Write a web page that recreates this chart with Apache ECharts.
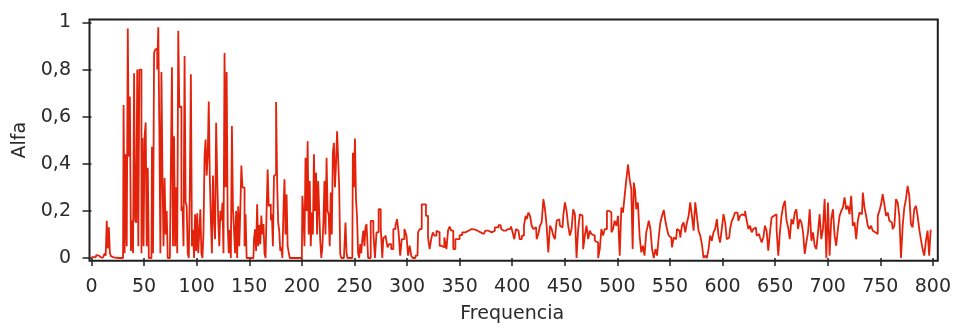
<!DOCTYPE html>
<html>
<head>
<meta charset="utf-8">
<script src="https://cdn.jsdelivr.net/npm/echarts@6/dist/echarts.min.js"></script>
<style>html,body{margin:0;padding:0;background:#fff;}#c{width:954px;height:329px;}</style>
</head>
<body>
<div id="c"></div>
<script>
// ---- data ----
var xTicks = [0,50,100,150,200,250,300,350,400,450,500,550,600,650,700,750,800];
var yTicks = [0,0.2,0.4,0.6,0.8,1];
var xName = 'Frequencia';
var yName = 'Alfa';

var freqA = [0,2,4,5,6,8,10,12,13,14,15,16,17,18,19,20,22,30,31,32,33,34,35,36,37,38,39,40,41,42,43,44,45,46,47,48,49,50,51,52,53,54,55,57,58,59,60,61,62,63,64,65,66,67,68,69,70,71,72,73,76,77,78,79,80,81,82,83,84,85,86,87,88,89,90,91,92,93,94,95,96,97,98,99,100];
var alfaA = [0.005,0.004,0.003,0.012,0.01,0.003,0.002,0.004,0.02,0.01,0.158,0.04,0.13,0.02,0.008,0.003,0,0,0.65,0.02,0.44,0.05,0.975,0.43,0.686,0.03,0.16,0.02,0.785,0.16,0.15,0.8,0.05,0.8,0.8,0.02,0.51,0.05,0.515,0.575,0.05,0.383,0,0,0.472,0.02,0.87,0.884,0.89,0.8,0.98,0.55,0.02,0.79,0.34,0.05,0.34,0.1,0.2,0,0,0.81,0.05,0.517,0.05,0.3,0.02,0.965,0.64,0.644,0.2,0.22,0.05,0.858,0.236,0.22,0.02,0,0.3,0.78,0.05,0.12,0,0.186,0.03];

var freqB1 = [101,102,103,104,105,106,107,108,109,110,111,112,113,114,115,116,117,118,119,120,121,122,123,124,125,126,127,128,129,130,131,132,133,134,135,136,137,138,139,140,141,142,143,144,145,146,147,148];
var alfaB1 = [0.19,0.02,0.11,0.207,0.02,0,0.11,0.433,0.503,0.35,0.43,0.665,0.34,0.16,0.02,0.35,0.16,0.08,0.574,0.35,0.16,0.05,0.2,0.16,0.235,0.02,0.87,0.3,0.79,0.14,0.02,0.12,0,0.56,0.21,0.12,0.02,0.2,0,0.22,0.05,0.2,0.393,0.3,0.299,0.05,0.186,0];

var freqB2 = [154,155,156,157,158,159,160,161,162,163,164,165,166,167,168,169,170,171,172,173,174,175,176,177,178,179,180,181,182,183,184,185,186,187,188,189];
var alfaB2 = [0,0.08,0.122,0.03,0.228,0.05,0.14,0.059,0.18,0.1,0.144,0.02,0,0.2,0.376,0.22,0.228,0.16,0.186,0.05,0.348,0.355,0.662,0.327,0.15,0.116,0.03,0.045,0,0.2,0.334,0.1,0.27,0.05,0.024,0];

var freqB3 = [200,201,202,203,204,205,206,207,208,209,210,211,212,213,214,215,216,217,218,219,220,221,222,223,224,225,226,227,228,229,230,231,232,233,234,235,236,237,238,240,241,242,243,244];
var alfaB3 = [0,0.264,0.186,0.05,0.426,0.2,0.496,0.1,0.327,0.05,0.193,0.1,0.44,0.2,0.362,0.1,0.327,0.2,0.073,0,0.045,0.15,0.327,0.1,0.426,0.2,0.186,0.05,0.278,0.1,0.447,0.489,0.3,0.4,0.538,0.426,0.3,0.017,0,0,0.05,0.151,0.02,0];

var freqB4 = [248,249,250,251,252,253,254,255,256,257,258,259,260,261];
var alfaB4 = [0,0.447,0.3,0.507,0.25,0.172,0.02,0,0.059,0.02,0.08,0.116,0.05,0.13];

var freqC = [262,264,267,269,270,272,274,276,277,278,281,282,284,286,288,290,291,293,294,296,299,300,302,303,305,306,310,311,313,315,317,319,321,322,324,325,327,329,330,332,334,337,338,340,341,343,345,347,349,351,354,357,360,363,367,370,373,376,379,382,385,389,390,392,394,396];
var alfaC = [0.144,0,0.158,0.109,0,0.109,0.207,0.13,0,0.087,0.097,0.045,0.059,0.038,0.123,0.137,0.165,0.109,0.01,0.08,0.123,0.095,0.01,0.052,0.01,0,0.01,0.109,0.123,0.228,0.228,0.179,0.087,0.038,0.08,0.109,0.095,0.116,0.109,0.052,0.045,0.087,0.038,0.116,0.134,0.116,0.038,0.08,0.08,0.097,0.109,0.116,0.123,0.12,0.116,0.109,0.102,0.116,0.109,0.116,0.13,0.14,0.123,0.116,0.116,0.123];

var freqD = [398.1,399.6,401.2,402.8,404.4,406,408.2,410.1,412.3,413.2,414.5,416.4,417.6,419.5,420.8,422.7,423.9,425.8,427.1,429,430.3,432.1,433.4,435.3,436.6,438.5,439.7,441.6,442.9,444.8,446,447.9,449.2,451.1,452.3,454.2,455.5,457.4,458.7,460.6,461.8,463.7,465,466.9,468.1,470,471.3,473.2,474.4,476.3,477.6,479.5,480.8,482.7,483.9,485.8,487.1,489,491.2,493.4,495.3,496.5,498.4,499.7,501.6,502.9,504.7,506,507.9,509.2,511.1,512.3,514.2,514.9,516.4,517.4,518.6,520.5,521.8,523.7,524.9,526.8,528.1,529];
var alfaD = [0.123,0.134,0.109,0.08,0.123,0.116,0.08,0.095,0.137,0.179,0.165,0.193,0.179,0.137,0.123,0.13,0.08,0.102,0.137,0.151,0.25,0.207,0.137,0.024,0.137,0.123,0.095,0.08,0.158,0.165,0.137,0.13,0.179,0.236,0.2,0.137,0.095,0.123,0.207,0.186,0,0.123,0.186,0.179,0.038,0.095,0.137,0.08,0.116,0.102,0.095,0.073,0.066,0,0.038,0.123,0.095,0.123,0.2,0.193,0.109,0.123,0.158,0.137,0.179,0.01,0.214,0.193,0.264,0.334,0.397,0.334,0.292,0.038,0.32,0.285,0.207,0.236,0.095,0.024,0.052,0.01,0.109,0.13];

var freqE = [530.7,532.2,533.8,535.4,537,538.5,540.1,541.7,543.3,544.9,546.4,548,549.6,551.2,552.8,554.3,555.9,557.5,559.1,560.6,562.2,563.8,565.4,567,568.5,570.1,571.7,573.3,574.8,576.4,578,579.6,581.2,582.7,584.3,585.9,587.5,589,590.6,592.2,593.8,595.4,596.9,598.5,600.1,601.7,603.3,604.8,606.4,608,609.6,611.1,612.7,614.3,615.9,617.5,619,620.6,622.2,623.8,625.4,626.9,628.5,630.1,631.7,633.2,634.8,636.4,638,639.6,641.1,642.7,644.3,645.9,647.4,649,650.6,652.2,653.8,655.3,656.9,658.5,660.1];
var alfaE = [0.158,0.123,0.038,0,0.038,0.01,0.087,0.151,0.179,0.204,0.158,0.123,0.095,0.087,0.045,0.087,0.08,0.123,0.116,0.087,0.137,0.151,0.109,0.151,0.179,0.236,0.179,0.116,0.236,0.179,0.116,0.095,0.059,0,0.01,0,0.038,0.095,0.073,0.109,0.123,0.165,0.095,0.066,0.123,0.186,0.151,0.08,0.087,0.123,0.158,0.172,0.193,0.193,0.158,0.179,0.186,0.179,0.2,0.158,0.123,0.137,0.109,0.123,0.13,0.095,0.102,0.087,0.066,0.087,0.137,0.116,0.031,0.109,0.172,0.179,0.186,0.123,0.01,0.109,0.179,0.221,0.243];

var freqF = [661.6,663.2,664.7,666.3,667.9,669.5,671,672.6,674.2,675.8,677.4,678.9,680.5,682.1,683.7,685.3,686.8,688.4,690,691.6,693.1,694.7,696.3,697.9,699.5,701,702.6,704.2,705.8,707.3,708.9,710.5,712.1,713.7,715.2,716.8,718.4,720,721.6,723.1,724.7,726.3,727.9,729.4,731,732.6,734.2,735.8,737.3,738.9,740.5,742.1,743.6,745.2,746.8,748.4,750,751.5,753.1,754.7,756.3,757.9,759.4,761,762.6,764.2,765.7,767.3,768.9,770.5,772.1,773.6,775.2,776.8,778.4,779.9,781.5,783.1,784.7,786.3,787.8,789.4,791,792.6,794.2,795.7,797.3,798.5];
var alfaF = [0.158,0.13,0.08,0.165,0.144,0.193,0.207,0.123,0.165,0.151,0.109,0.017,0.066,0.109,0.207,0.073,0.109,0.052,0.038,0.109,0.186,0.08,0.123,0.25,0,0.236,0.01,0.165,0.207,0.095,0.052,0.123,0.179,0.2,0.214,0.257,0.207,0.221,0.186,0.264,0.137,0.151,0.08,0.158,0.193,0.186,0.278,0.214,0.179,0.137,0.123,0.137,0.116,0.109,0.102,0.179,0.2,0.228,0.271,0.228,0.179,0.193,0.158,0.151,0.123,0.137,0.25,0.236,0.179,0,0.137,0.214,0.25,0.306,0.264,0.144,0.13,0.207,0.221,0.179,0.123,0.08,0.038,0.01,0.073,0.116,0.01,0.12];

// ---- build ----
var freq = [].concat(freqA, freqB1, freqB2, freqB3, freqB4, freqC, freqD, freqE, freqF);
var alfa = [].concat(alfaA, alfaB1, alfaB2, alfaB3, alfaB4, alfaC, alfaD, alfaE, alfaF);
var data = freq.map(function (f, i) { return [f, alfa[i]]; });

var FONT = 'DejaVu Sans';
var chart = echarts.init(document.getElementById('c'), null, {renderer: 'canvas'});
chart.setOption({
  animation: false,
  backgroundColor: '#ffffff',
  grid: {left: 91.5, right: 18.3, top: 22.5, bottom: 70},
  xAxis: {
    type: 'value', min: xTicks[0], max: xTicks[xTicks.length - 1], interval: xTicks[1] - xTicks[0],
    offset: 6,
    axisLine: {show: false},
    axisTick: {show: true, length: 8, lineStyle: {color: '#222', width: 1.5}},
    axisLabel: {margin: 14, color: '#2a2a2a', fontFamily: FONT, fontSize: 19},
    splitLine: {show: false},
    name: xName, nameLocation: 'middle', nameGap: 41,
    nameTextStyle: {color: '#2a2a2a', fontFamily: FONT, fontSize: 19}
  },
  yAxis: {
    type: 'value', min: yTicks[0], max: yTicks[yTicks.length - 1], interval: yTicks[1] - yTicks[0],
    offset: 5.5,
    axisLine: {show: false},
    axisTick: {show: true, length: 9, lineStyle: {color: '#222', width: 1.5}},
    axisLabel: {margin: 15, color: '#2a2a2a', fontFamily: FONT, fontSize: 19,
      formatter: function (v) { return String(Math.round(v * 10) / 10).replace('.', ','); }},
    splitLine: {show: false},
    name: yName, nameLocation: 'middle', nameGap: 55, nameRotate: 90,
    nameTextStyle: {color: '#2a2a2a', fontFamily: FONT, fontSize: 19}
  },
  graphic: [{
    type: 'rect', z: 10, silent: true,
    shape: {x: 89.5, y: 19.5, width: 848.3, height: 241.3},
    style: {fill: 'none', stroke: '#1e1e1e', lineWidth: 2}
  }],
  series: [{
    type: 'line', data: data, showSymbol: false, symbol: 'none', step: 'middle',
    lineStyle: {color: '#e3220c', width: 1.8},
    clip: false
  }]
});
</script>
</body>
</html>
